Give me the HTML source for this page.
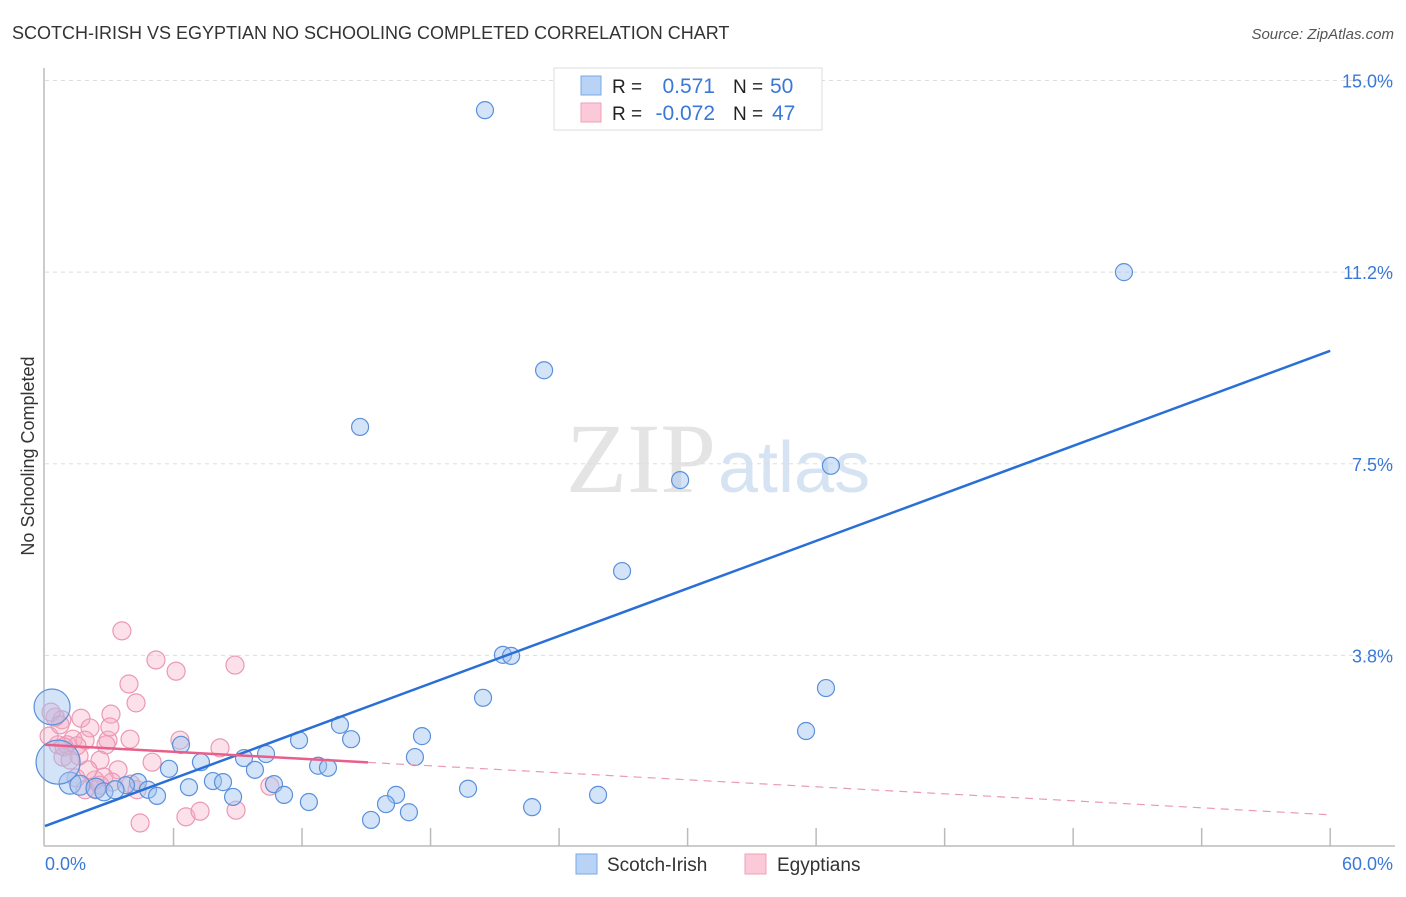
<!DOCTYPE html>
<html><head><meta charset="utf-8"><style>
body{margin:0;background:#fff;font-family:"Liberation Sans",sans-serif;}
svg text{font-family:"Liberation Sans",sans-serif;}
</style></head><body>
<svg id="chart" width="1406" height="892">
<text x="12" y="39" font-size="18" fill="#333">SCOTCH-IRISH VS EGYPTIAN NO SCHOOLING COMPLETED CORRELATION CHART</text>
<text x="1394" y="39" font-size="15" fill="#555" font-style="italic" text-anchor="end">Source: ZipAtlas.com</text>
<text x="716" y="492" font-size="100" fill="#e4e4e4" text-anchor="end" style="font-family:'Liberation Serif',serif">ZIP</text>
<text x="718" y="492" font-size="72" fill="#d5e3f3">atlas</text>
<text transform="translate(34,456) rotate(-90)" font-size="18" fill="#333" text-anchor="middle">No Schooling Completed</text>
<g id="grid"></g><g id="axes"></g><g id="pts"></g><g id="lines"></g>
<g>
<rect x="554" y="68" width="268" height="62" fill="#fff" stroke="#ddd"/>
<rect x="581" y="76" width="20" height="19" fill="#b8d3f5" stroke="#7aa8e6"/>
<rect x="581" y="103" width="20" height="19" fill="#fcc9d8" stroke="#eea0b8"/>
<text x="612" y="93" font-size="19" fill="#222">R =</text><text x="715" y="93" font-size="21" fill="#3a78d8" text-anchor="end">0.571</text>
<text x="733" y="93" font-size="19" fill="#222">N =</text><text x="770" y="93" font-size="21" fill="#3a78d8">50</text>
<text x="612" y="120" font-size="19" fill="#222">R =</text><text x="715" y="120" font-size="21" fill="#3a78d8" text-anchor="end">-0.072</text>
<text x="733" y="120" font-size="19" fill="#222">N =</text><text x="772" y="120" font-size="21" fill="#3a78d8">47</text>
</g>
<g>
<rect x="576" y="854" width="21" height="20" fill="#b8d3f5" stroke="#7aa8e6"/>
<text x="607" y="871" font-size="19" fill="#333">Scotch-Irish</text>
<rect x="745" y="854" width="21" height="20" fill="#fcc9d8" stroke="#eea0b8"/>
<text x="777" y="871" font-size="19" fill="#333">Egyptians</text>
</g>
</svg>
<script>
const yTicks=[15.0,11.25,7.5,3.75];
const yTickLabels=["15.0%","11.2%","7.5%","3.8%"];
const xTickVals=[6,12,18,24,30,36,42,48,54,60];
const xEndLabels=["0.0%","60.0%"];
const blueX=[20.54,50.37,23.30,14.71,29.65,36.69,26.94,21.38,21.76,20.45,36.46,35.53,13.77,14.29,11.86,17.60,6.35,10.32,9.29,17.27,7.28,12.75,13.21,9.80,5.79,7.84,8.31,10.69,6.72,4.34,3.78,4.81,5.23,8.78,11.16,12.32,16.39,15.92,15.22,16.99,19.75,22.74,25.82,1.17,1.63,2.38,2.75,3.27,0.33,0.61];
const blueY=[14.42,11.25,9.33,8.22,7.18,7.46,5.40,3.76,3.74,2.92,3.11,2.27,2.39,2.11,2.09,2.17,2.00,1.82,1.74,1.76,1.66,1.59,1.55,1.51,1.53,1.29,1.27,1.23,1.17,1.27,1.21,1.12,1.00,0.98,1.02,0.88,1.02,0.84,0.53,0.68,1.14,0.78,1.02,1.25,1.21,1.15,1.08,1.12,2.74,1.66];
const blueR=[8.5,8.5,8.5,8.5,8.5,8.5,8.5,8.5,8.5,8.5,8.5,8.5,8.5,8.5,8.5,8.5,8.5,8.5,8.5,8.5,8.5,8.5,8.5,8.5,8.5,8.5,8.5,8.5,8.5,8.5,8.5,8.5,8.5,8.5,8.5,8.5,8.5,8.5,8.5,8.5,8.5,8.5,8.5,11,10,10,9,9,18,22];
const pinkX=[3.59,5.18,6.12,8.87,3.92,4.25,3.08,1.68,2.10,0.79,1.31,0.61,1.03,1.87,2.94,3.97,2.85,6.30,8.17,5.00,3.41,2.75,3.13,4.01,4.30,2.38,1.87,0.84,10.50,1.59,2.57,0.19,0.47,0.28,4.44,6.58,7.24,8.92,3.03,1.49,0.70,0.89,2.33,1.45,1.17,2.01,2.57];
const pinkY=[4.23,3.66,3.44,3.56,3.19,2.82,2.60,2.52,2.33,2.49,2.11,2.00,2.00,2.09,2.09,2.11,2.00,2.09,1.94,1.66,1.51,1.37,1.27,1.23,1.12,1.12,1.12,1.76,1.19,1.78,1.70,2.17,2.54,2.64,0.47,0.59,0.70,0.72,2.35,1.98,2.39,1.96,1.31,1.35,1.70,1.51,1.21];
const blueTrend=[0.41,9.71];
const pinkTrend=[2.00,0.63];
const pinkSolidEnd=15.08;
const NS="http://www.w3.org/2000/svg";
const X=v=>45+v*21.42, Y=v=>847-v*51.1;
function mk(tag,attrs,parent){const e=document.createElementNS(NS,tag);for(const k in attrs)e.setAttribute(k,attrs[k]);document.getElementById(parent).appendChild(e);return e;}
yTicks.forEach((t,i)=>{
 const l=mk('line',{x1:45,x2:1395,y1:Y(t),y2:Y(t),stroke:'#ddd','stroke-dasharray':'4,4'},'grid');
 
 
 const tx=mk('text',{x:1393,y:Y(t)+7,'font-size':18,fill:'#3a78d8','text-anchor':'end'},'grid');
 tx.textContent=yTickLabels[i];
 
 
});
let ax=mk('line',{x1:44,x2:44,y1:68,y2:846,stroke:'#bbb','stroke-width':1.5},'axes');


ax=mk('line',{x1:44,x2:1395,y1:846,y2:846,stroke:'#bbb','stroke-width':1.5},'axes');


xTickVals.forEach(t=>{const l=mk('line',{x1:X(t),x2:X(t),y1:828,y2:846,stroke:'#bbb','stroke-width':1.5},'axes');
 
 });
let t0=mk('text',{x:45,y:870,'font-size':18,fill:'#3a78d8'},'axes');t0.textContent=xEndLabels[0];


let t1=mk('text',{x:1393,y:870,'font-size':18,fill:'#3a78d8','text-anchor':'end'},'axes');t1.textContent=xEndLabels[1];


pinkX.forEach((x,i)=>{const c=mk('circle',{cx:X(x),cy:Y(pinkY[i]),r:9,fill:'rgba(246,170,195,0.35)',stroke:'#eb98b3','stroke-width':1.2},'pts');
 
 });
blueX.forEach((x,i)=>{const c=mk('circle',{cx:X(x),cy:Y(blueY[i]),r:blueR[i],fill:'rgba(160,195,240,0.45)',stroke:'#5a90dc','stroke-width':1.2},'pts');
 
 });
let bl=mk('line',{x1:X(0),y1:Y(blueTrend[0]),x2:X(60),y2:Y(blueTrend[1]),stroke:'#2a6fd6','stroke-width':2.5},'lines');


const pAt=x=>pinkTrend[0]+(pinkTrend[1]-pinkTrend[0])*x/60;
let pl=mk('line',{x1:X(0),y1:Y(pinkTrend[0]),x2:X(pinkSolidEnd),y2:Y(pAt(pinkSolidEnd)),stroke:'#e8608a','stroke-width':2.5},'lines');


let pd=mk('line',{x1:X(pinkSolidEnd),y1:Y(pAt(pinkSolidEnd)),x2:X(60),y2:Y(pinkTrend[1]),stroke:'#eb9ab4','stroke-width':1.2,'stroke-dasharray':'8,6'},'lines');


</script>
</body></html>
